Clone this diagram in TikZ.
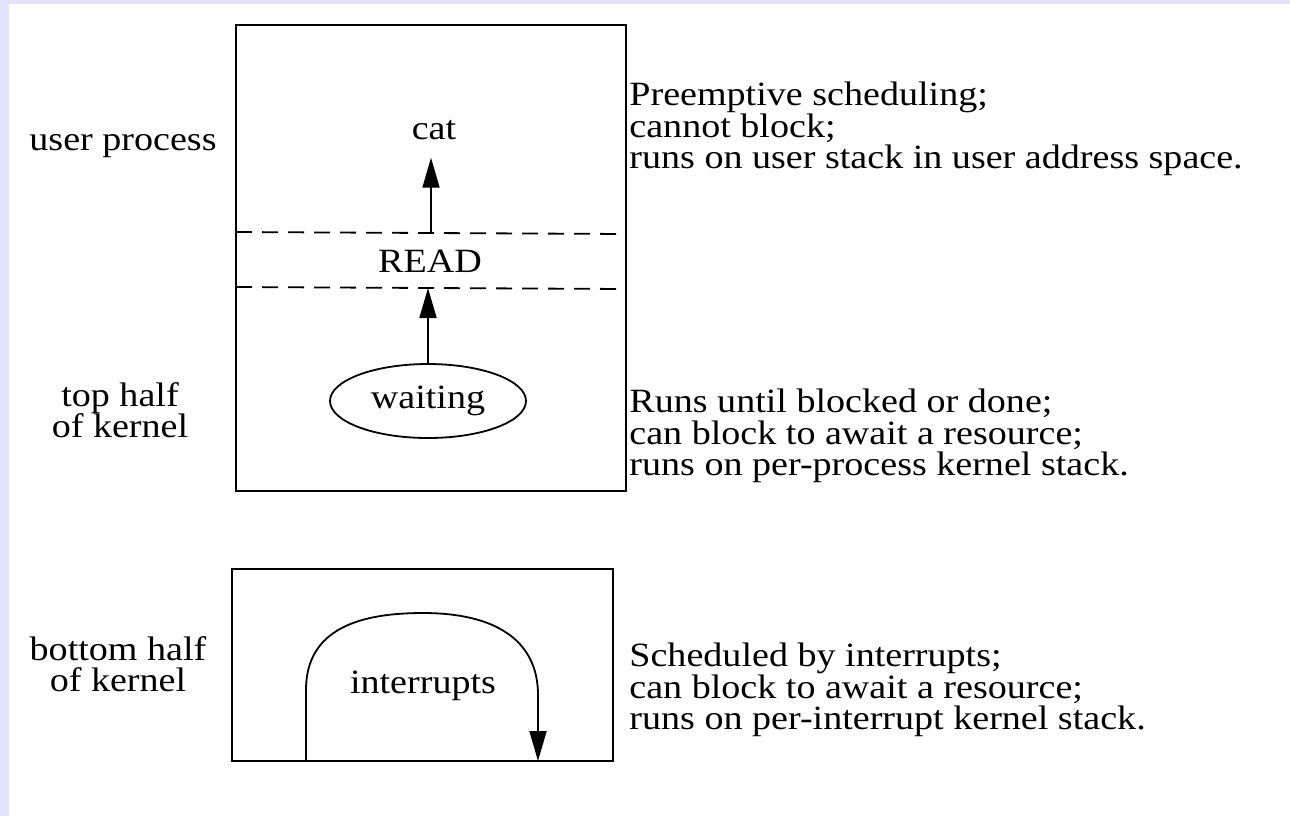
\documentclass[tikz,border=0pt]{standalone}
\usepackage{fontspec}
\setmainfont{Liberation Serif}[FakeStretch=1.12]
\usetikzlibrary{arrows.meta,shapes.geometric}
\definecolor{framecol}{RGB}{226,226,255}
\tikzstyle{txt}=[font=\fontsize{17}{15.6}\selectfont,inner sep=0pt]
\tikzstyle{side}=[txt,align=center]
\tikzstyle{note}=[txt,align=left,anchor=west]
\tikzstyle{box}=[draw,line width=1pt]
\tikzstyle{layer}=[line width=0.9pt,dash pattern=on 8pt off 5pt]
\tikzstyle{flow}=[draw,line width=0.9pt,-{Triangle[length=15pt,width=8.5pt]}]

\begin{document}
\begin{tikzpicture}[x=0.5pt,y=-0.5pt]
        \fill[framecol] (0,0) rectangle (1290,816);
        \fill[white] (9,4) rectangle (1290,816);
        \useasboundingbox (0,0) rectangle (1290,816);
        % left column
        \node[side] (user) at (123,146) {user process};
        \node[side] (top) at (120,410) {top half\\of kernel};
        \node[side] (bottom) at (118,664) {bottom half\\of kernel};
        % upper box
        \draw[box] (236,25) rectangle (626,491);
        \draw[layer] (236,232) -- (626,234);
        \draw[layer] (236,287) -- (626,289);
        \node[txt,anchor=base] (cat) at (434,139) {cat};
        \node[txt] (read) at (430,261) {READ};
        \node[txt,ellipse,draw,line width=0.9pt,minimum width=98pt,minimum height=37pt] (waiting) at (428,401) {waiting};
        \coordinate (u1) at (431,233);
        \coordinate (l1) at (428,288);
        \path[flow,shorten >=9pt] (u1) -- (u1 |- cat.south);
        \path[flow] (waiting.north) -- (l1);
        % lower box
        \draw[box] (232,569) rectangle (613,761);
        \node[txt] (intr) at (423,686) {interrupts};
        \coordinate (a0) at (306,761);
        \coordinate (arch) at (423,613);
        \coordinate (a1) at (538,761);
        \path[flow] (a0) -- ++(0,-71) .. controls +(0,-62) and +(-62,0) .. (arch)
            .. controls +(72,0) and +(0,-55) .. (538,695) -- (a1);
        % right column
        \node[note] (n1) at (629,129) {Preemptive scheduling;\\cannot block;\\runs on user stack in user address space.};
        \node[note] (n2) at (629,436) {Runs until blocked or done;\\can block to await a resource;\\runs on per-process kernel stack.};
        \node[note] (n3) at (629,690) {Scheduled by interrupts;\\can block to await a resource;\\runs on per-interrupt kernel stack.};
\end{tikzpicture}
\end{document}
